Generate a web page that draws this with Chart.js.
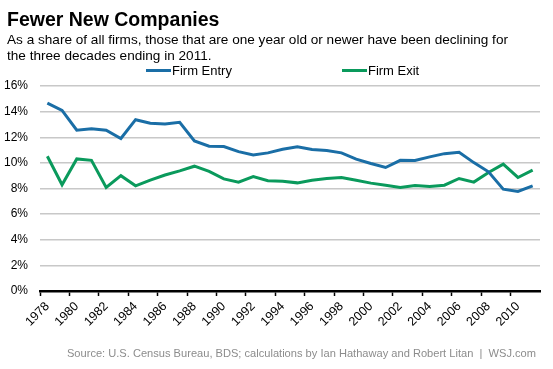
<!DOCTYPE html>
<html>
<head>
<meta charset="utf-8">
<script src="https://cdn.jsdelivr.net/npm/chart.js@4.4.1/dist/chart.umd.min.js"></script>
<style>
    body { margin: 0; background: #fff; font-family: "Liberation Sans", Arial, sans-serif; }
    #wrap { position: relative; width: 553px; height: 369px; overflow: hidden; }
    #chart { position: absolute; left: 0; top: 0; }
    .title { position: absolute; left: 7px; top: 8px; font-size: 19.5px; font-weight: bold; color: #000; }
    .subtitle { position: absolute; left: 7px; top: 32px; font-size: 13.6px; line-height: 15.5px; color: #000; }
    #legend { position: absolute; left: 146px; top: 63px; display: flex; font-size: 13px; color: #000; }
    .legend-item { display: flex; align-items: center; }
    .legend-line { width: 25px; height: 3px; margin-right: 1px; }
    .source { position: absolute; right: 17px; top: 347px; font-size: 11.1px; color: #8c8c8c; }
</style>
</head>
<body>
<div id="wrap">
    <canvas id="chart" width="553" height="369"></canvas>
    <div class="title">Fewer New Companies</div>
    <div class="subtitle">As a share of all firms, those that are one year old or newer have been declining for<br>the three decades ending in 2011.</div>
    <div id="legend"></div>
    <div class="source">Source: U.S. Census Bureau, BDS; calculations by Ian Hathaway and Robert Litan &nbsp;|&nbsp; WSJ.com</div>
</div>
<script>
// valores (% do total de empresas)
const years = [
    '1978', '1979', '1980', '1981', '1982', '1983', '1984', '1985', '1986', '1987',
    '1988', '1989', '1990', '1991', '1992', '1993', '1994', '1995', '1996', '1997',
    '1998', '1999', '2000', '2001', '2002', '2003', '2004', '2005', '2006', '2007',
    '2008', '2009', '2010', '2011'
];
const firmEntry = [
    14.67, 14.1, 12.55, 12.67, 12.55, 11.9, 13.37, 13.09, 13.03, 13.17,
    11.71, 11.3, 11.27, 10.88, 10.62, 10.78, 11.06, 11.25, 11.04, 10.96,
    10.78, 10.29, 9.95, 9.64, 10.2, 10.18, 10.47, 10.72, 10.83, 10.02,
    9.3, 7.95, 7.77, 8.21
];
const firmExit = [
    10.52, 8.29, 10.31, 10.2, 8.08, 9.0, 8.21, 8.65, 9.05, 9.38,
    9.74, 9.33, 8.75, 8.5, 8.93, 8.6, 8.57, 8.44, 8.65, 8.78,
    8.86, 8.65, 8.42, 8.26, 8.08, 8.23, 8.16, 8.26, 8.78, 8.5,
    9.25, 9.9, 8.86, 9.43
];
const yTicks = [0, 2, 4, 6, 8, 10, 12, 14, 16];

const seriesNames = ['Firm Entry', 'Firm Exit'];
const seriesColors = ['#1a6ea6', '#0a9a5c'];

const font = "'Liberation Sans', Arial, sans-serif";

const chart = new Chart(document.getElementById('chart'), {
    type: 'line',
    data: {
        labels: years,
        datasets: [firmEntry, firmExit].map((values, i) => ({
            label: seriesNames[i],
            data: values,
            borderColor: seriesColors[i],
            backgroundColor: seriesColors[i],
            borderWidth: 3,
            pointRadius: 0,
            tension: 0
        }))
    },
    options: {
        responsive: false,
        animation: false,
        layout: { padding: { top: 86, right: 13, bottom: 28, left: 0 } },
        plugins: {
            legend: { display: false },
            tooltip: { enabled: false }
        },
        scales: {
            x: {
                offset: true,
                afterFit: scale => { scale.height = 50; },
                grid: {
                    offset: true,
                    drawOnChartArea: false,
                    drawTicks: true,
                    tickLength: 5,
                    tickWidth: 1.5,
                    tickColor: ctx => (ctx.index % 2 === 0 ? '#000' : 'rgba(0,0,0,0)')
                },
                border: { display: true, color: '#000', width: 2.5 },
                ticks: {
                    autoSkip: false,
                    minRotation: 45,
                    maxRotation: 45,
                    padding: 3,
                    color: '#000',
                    font: { family: font, size: 12.5 },
                    callback: (val, i) => (i % 2 === 0 ? years[i] : '')
                }
            },
            y: {
                min: yTicks[0],
                max: yTicks[yTicks.length - 1],
                afterFit: scale => { scale.width = 40; },
                afterBuildTicks: scale => { scale.ticks = yTicks.map(v => ({ value: v })); },
                grid: { color: '#c8c8c8', lineWidth: 1.5, drawTicks: false },
                border: { display: false },
                ticks: {
                    padding: 12,
                    color: '#000',
                    font: { family: font, size: 12 },
                    callback: v => v + '%'
                }
            }
        }
    }
});

// legenda em HTML, montada a partir dos datasets
const legendEl = document.getElementById('legend');
chart.data.datasets.forEach((ds, i) => {
    const item = document.createElement('div');
    item.className = 'legend-item';
    if (i > 0) item.style.marginLeft = '110px';
    item.innerHTML = `<span class="legend-line" style="background:${ds.borderColor}"></span><span>${ds.label}</span>`;
    legendEl.appendChild(item);
});
</script>
</body>
</html>
